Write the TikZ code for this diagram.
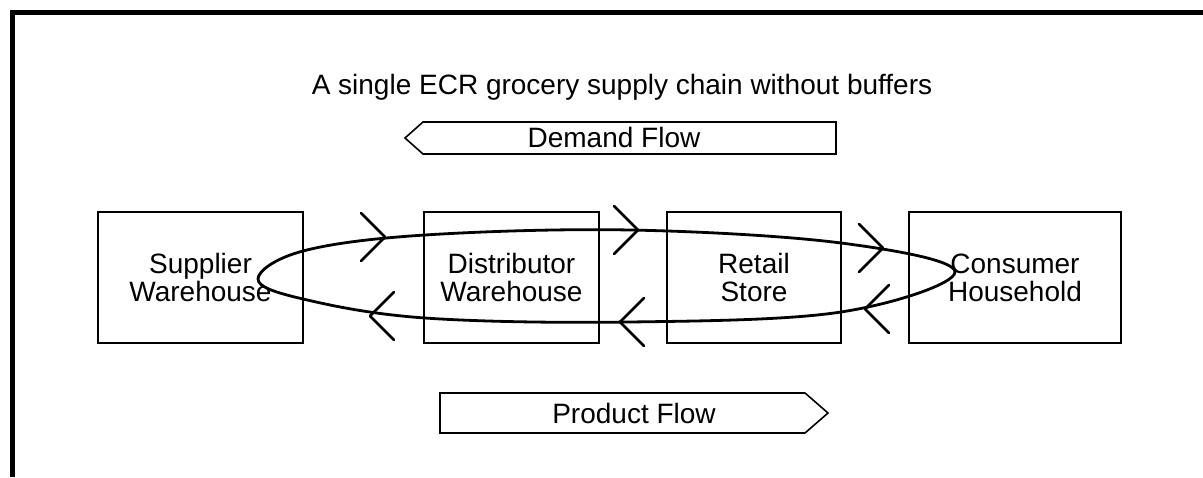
\documentclass[tikz,border=0pt]{standalone}
\usepackage{fontspec}
\setmainfont{Liberation Sans}
\usepackage{tikz}

\begin{document}
\begin{tikzpicture}[x=1pt, y=-1pt, font=\fontsize{28}{28}\selectfont,
    stagebox/.style={draw, line width=1.6pt, align=center, inner sep=0pt, minimum height=131pt},
    flowarrow/.style={draw, line width=1.6pt, line join=miter},
    chev/.style={line width=2.8pt, line cap=round, line join=round}]
  \useasboundingbox (0,0) rectangle (1203,477);
  \draw[line width=5pt] (12,477) -- (12,12) -- (1203,12);
  \node[anchor=base] (title) at (622,94) {A single ECR grocery supply chain without buffers};
  % flow arrows
  \draw[flowarrow] (405,138) -- (423,122) -- (836,122) -- (836,154) -- (423,154) -- cycle;
  \node[anchor=base] (demand) at (614,147) {Demand Flow};
  \draw[flowarrow] (440,393) -- (805,393) -- (828,413) -- (805,433) -- (440,433) -- cycle;
  \node[anchor=base] (product) at (634,423) {Product Flow};
  % stages of the chain
  \foreach \x/\w/\n/\t in {200.5/205/supplier/{Supplier\\Warehouse},
      511.5/175/distributor/{Distributor\\Warehouse}, 754/174/retail/{Retail\\Store},
      1015/212/consumer/{Consumer\\Household}} {
    \node[stagebox, minimum width=\w pt] (\n) at (\x,277.5) {\t};
  }
  \draw[line width=2.8pt] plot[smooth cycle, tension=0.6] coordinates {(258,279) (303,251)
    (425,235) (630,230) (841,243) (955,272) (841,312) (630,322) (425,318) (303,299)};
  \foreach \x/\y in {385/237, 638/230, 883/248} {
    \draw[chev] (\x-24,\y-24) -- (\x,\y) -- (\x-24,\y+24);
  }
  \foreach \x/\y in {370/316, 620/322, 865/309} {
    \draw[chev] (\x+24,\y-24) -- (\x,\y) -- (\x+24,\y+24);
  }
\end{tikzpicture}
\end{document}
